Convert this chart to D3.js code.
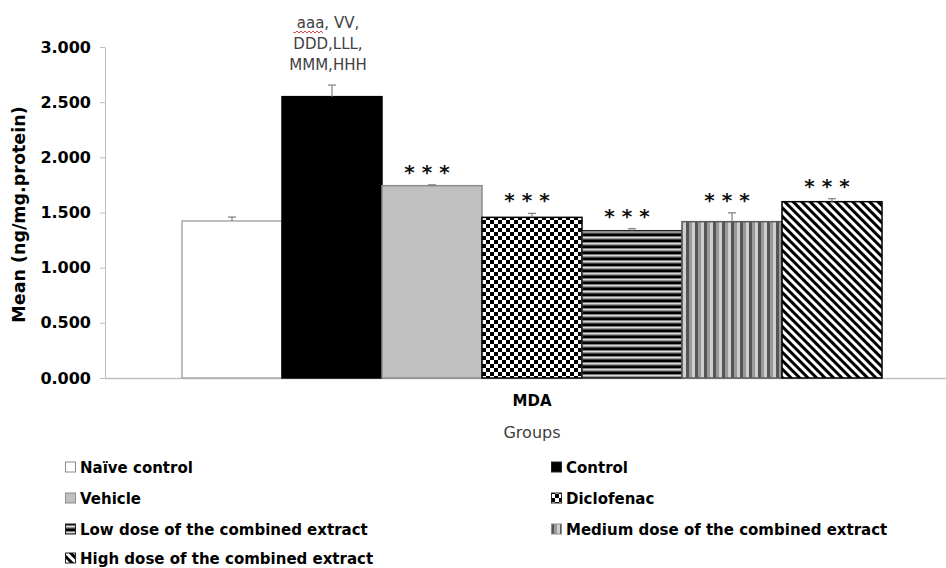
<!DOCTYPE html>
<html>
<head>
<meta charset="utf-8">
<script src="https://cdn.jsdelivr.net/npm/d3@7"></script>
<style>
  html, body { margin: 0; padding: 0; background: #fff; }
  svg { display: block; }
</style>
</head>
<body>
<svg id="chart" width="946" height="568"></svg>
<script>
// MDA levels per treatment group
const category = "MDA";
const groups = [
  "Naïve control",
  "Control",
  "Vehicle",
  "Diclofenac",
  "Low dose of the combined extract",
  "Medium dose of the combined extract",
  "High dose of the combined extract"
];
const means = [1.423, 2.550, 1.743, 1.456, 1.335, 1.417, 1.598];
const errors = [0.036, 0.105, 0.008, 0.036, 0.018, 0.080, 0.027];
const significance = ["", "", "* * *", "* * *", "* * *", "* * *", "* * *"];
const controlNotes = ["aaa, VV,", "DDD,LLL,", "MMM,HHH"];
const yTicks = [0, 0.5, 1, 1.5, 2, 2.5, 3];

const fills = ["#ffffff", "#000000", "#c0c0c0", "url(#checker)", "url(#hstripe)", "url(#vstripe)", "url(#diag)"];
const strokes = ["#a6a6a6", "#000000", "#8c8c8c", "#000000", "#262626", "#595959", "#000000"];

const svg = d3.select("#chart");
const plotLeft = 105, plotRight = 959, plotTop = 47, plotBottom = 378;

const y = d3.scaleLinear().domain([0, 3]).range([plotBottom, plotTop]);
const x0 = d3.scaleBand().domain([category]).range([plotLeft, plotRight]).paddingOuter(0.11).paddingInner(0);
const x1 = d3.scaleBand().domain(groups).range([0, x0.bandwidth()]);

// fill patterns
const defs = svg.append("defs");
const checker = defs.append("pattern").attr("id", "checker").attr("patternUnits", "userSpaceOnUse")
  .attr("width", 8).attr("height", 8);
checker.append("rect").attr("width", 8).attr("height", 8).attr("fill", "#fff");
checker.append("rect").attr("width", 4).attr("height", 4).attr("fill", "#000");
checker.append("rect").attr("x", 4).attr("y", 4).attr("width", 4).attr("height", 4).attr("fill", "#000");

const hs = defs.append("pattern").attr("id", "hstripe").attr("patternUnits", "userSpaceOnUse")
  .attr("width", 8).attr("height", 6);
[["#000", 0, 2], ["#7f7f7f", 2, 1], ["#d9d9d9", 3, 1.5], ["#404040", 4.5, 1.5]].forEach(([c, yy, h]) =>
  hs.append("rect").attr("x", 0).attr("y", yy).attr("width", 8).attr("height", h).attr("fill", c));

const vs = defs.append("pattern").attr("id", "vstripe").attr("patternUnits", "userSpaceOnUse")
  .attr("width", 9).attr("height", 8);
[["#555", 0, 3], ["#9a9a9a", 3, 3], ["#cfcfcf", 6, 3]].forEach(([c, xx, w]) =>
  vs.append("rect").attr("x", xx).attr("y", 0).attr("width", w).attr("height", 8).attr("fill", c));

const dg = defs.append("pattern").attr("id", "diag").attr("patternUnits", "userSpaceOnUse")
  .attr("width", 6).attr("height", 6).attr("patternTransform", "rotate(-45)");
dg.append("rect").attr("width", 6).attr("height", 6).attr("fill", "#fff");
dg.append("rect").attr("width", 3).attr("height", 6).attr("fill", "#000");

// y axis
const yAxis = d3.axisLeft(y).tickValues(yTicks).tickFormat(d3.format(".3f")).tickSize(5).tickSizeOuter(0).tickPadding(9);
const gy = svg.append("g").attr("transform", `translate(${plotLeft},0)`).call(yAxis);
gy.select(".domain").attr("stroke", "#bfbfbf");
gy.selectAll(".tick line").attr("stroke", "#bfbfbf");
gy.selectAll(".tick text")
  .attr("font-family", "DejaVu Sans").attr("font-weight", "bold").attr("font-size", 16).attr("fill", "#000");

// x axis
const xAxis = d3.axisBottom(x0).tickSize(0).tickSizeOuter(0).tickPadding(17);
const gx = svg.append("g").attr("transform", `translate(0,${plotBottom})`).call(xAxis);
gx.select(".domain").attr("stroke", "#bfbfbf").attr("stroke-width", 1.5);
gx.selectAll(".tick text")
  .attr("font-family", "DejaVu Sans").attr("font-weight", "bold").attr("font-size", 15).attr("fill", "#000");

// bars
const bars = svg.append("g").attr("transform", `translate(${x0(category)},0)`);
bars.selectAll("rect").data(groups).join("rect")
  .attr("x", d => x1(d))
  .attr("y", (d, i) => y(means[i]))
  .attr("width", x1.bandwidth())
  .attr("height", (d, i) => y(0) - y(means[i]))
  .attr("fill", (d, i) => fills[i])
  .attr("stroke", (d, i) => strokes[i])
  .attr("stroke-width", 1.5);

// error bars (upper half)
const eb = bars.append("g").attr("stroke", "#808080").attr("stroke-width", 1.2).attr("fill", "none");
groups.forEach((g, i) => {
  const cx = x1(g) + x1.bandwidth() / 2;
  eb.append("line").attr("x1", cx).attr("x2", cx).attr("y1", y(means[i])).attr("y2", y(means[i] + errors[i]));
  eb.append("line").attr("x1", cx - 4).attr("x2", cx + 4).attr("y1", y(means[i] + errors[i])).attr("y2", y(means[i] + errors[i]));
});

// significance marks
bars.selectAll("text.sig").data(groups).join("text").attr("class", "sig")
  .attr("x", d => x1(d) + x1.bandwidth() / 2 - 5)
  .attr("y", (d, i) => y(means[i] + errors[i]) - 6)
  .attr("text-anchor", "middle")
  .attr("font-family", "DejaVu Sans").attr("font-weight", "bold").attr("font-size", 20).attr("fill", "#111")
  .text((d, i) => significance[i]);

// comparison notes above the control bar
const ctrlX = x1(groups[1]) + x1.bandwidth() / 2 - 4;
const notes = bars.append("text").attr("text-anchor", "middle")
  .attr("font-family", "DejaVu Sans").attr("font-size", 15).attr("fill", "#404040");
controlNotes.forEach((t, i) => {
  notes.append("tspan").attr("x", ctrlX).attr("y", 28 + i * 21).text(t);
});
// spell-check squiggle under "aaa"
const sq = d3.path();
const sqStart = ctrlX - 35, sqEnd = ctrlX - 5, sqY = 32;
sq.moveTo(sqStart, sqY);
for (let xx = sqStart, k = 0; xx < sqEnd; xx += 2, k++) sq.lineTo(xx + 2, sqY + (k % 2 ? -1 : 1));
bars.append("path").attr("d", sq.toString()).attr("fill", "none").attr("stroke", "#e03030").attr("stroke-width", 0.9);

// axis titles
svg.append("text")
  .attr("transform", `translate(25,${(plotTop + plotBottom) / 2 + 2}) rotate(-90)`)
  .attr("text-anchor", "middle")
  .attr("font-family", "DejaVu Sans").attr("font-weight", "bold").attr("font-size", 17.5).attr("fill", "#000")
  .text("Mean (ng/mg.protein)");
svg.append("text")
  .attr("x", x0(category) + x0.bandwidth() / 2).attr("y", 438)
  .attr("text-anchor", "middle")
  .attr("font-family", "DejaVu Sans").attr("font-size", 16).attr("fill", "#404040")
  .text("Groups");

// legend, two columns
const legend = svg.append("g");
const colX = [65, 551], rowY = [467, 498, 529, 558];
groups.forEach((g, i) => {
  const cx = colX[i % 2], cy = rowY[Math.floor(i / 2)];
  const item = legend.append("g").attr("transform", `translate(${cx},${cy})`);
  item.append("rect").attr("x", 0.5).attr("y", -5).attr("width", 10).attr("height", 10)
    .attr("fill", fills[i]).attr("stroke", i === 0 || i === 2 || i === 5 ? "#8c8c8c" : "#222").attr("stroke-width", 1);
  item.append("text").attr("x", 15).attr("y", 5.5)
    .attr("font-family", "DejaVu Sans").attr("font-weight", "bold").attr("font-size", 15).attr("fill", "#000")
    .text(g);
});
</script>
</body>
</html>
